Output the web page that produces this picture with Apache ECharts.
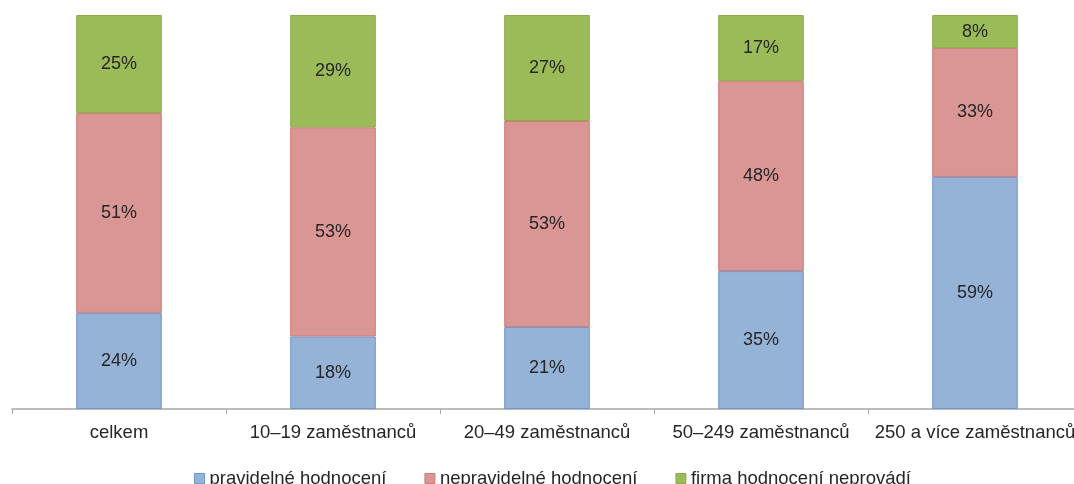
<!DOCTYPE html>
<html><head><meta charset="utf-8">
<script src="https://cdn.jsdelivr.net/npm/echarts@6/dist/echarts.min.js"></script>
<style>html,body{margin:0;padding:0;background:#fff;overflow:hidden}#c{width:1090px;height:484px}</style>
</head><body><div id="c"></div>
<script>
const categories = ['celkem', '10–19 zaměstnanců', '20–49 zaměstnanců', '50–249 zaměstnanců', '250 a více zaměstnanců'];
const seriesNames = ['pravidelné hodnocení', 'nepravidelné hodnocení', 'firma hodnocení neprovádí'];
// bar heights
const pravidelne = [24.4, 18.4, 20.8, 35.0, 58.9];
const nepravidelne = [50.7, 53.1, 52.3, 48.2, 32.7];
const neprovadi = [24.9, 28.5, 26.9, 16.8, 8.4];
// printed labels
const pravidelneLbl = [24, 18, 21, 35, 59];
const nepravidelneLbl = [51, 53, 53, 48, 33];
const neprovadiLbl = [25, 29, 27, 17, 8];

const fills = ['#95B3D7', '#D99694', '#9BBB59'];
const borders = ['#7197CA', '#CF7B79', '#8AAC4C'];
const font = 'Liberation Sans, Arial, sans-serif';

function mk(name, data, lbl, i) {
  return {
    name: name, type: 'bar', stack: 'a', data: data, barWidth: '40%',
    itemStyle: { color: fills[i], borderColor: borders[i], borderWidth: 1 },
    label: { show: true, position: 'inside', formatter: p => lbl[p.dataIndex] + '%', color: '#262626', fontSize: 18, fontFamily: font },
    emphasis: { disabled: true }
  };
}

const chart = echarts.init(document.getElementById('c'));
chart.setOption({
  animation: false,
  grid: { left: 12, top: 15, right: 8, bottom: 75, containLabel: false },
  legend: {
    left: 189, top: 464, itemWidth: 10, itemHeight: 10, itemGap: 38, icon: 'rect',
    textStyle: { fontSize: 18.5, color: '#262626', fontFamily: font },
    data: seriesNames.map((n, i) => ({ name: n, itemStyle: { color: fills[i], borderColor: borders[i], borderWidth: 1 } }))
  },
  xAxis: {
    type: 'category', data: categories,
    axisLine: { lineStyle: { color: '#A6A6A6', width: 1.5 } },
    axisTick: { show: true, length: 5, lineStyle: { color: '#A6A6A6' } },
    axisLabel: { fontSize: 18.5, color: '#262626', fontFamily: font, margin: 14, interval: 0 }
  },
  yAxis: { type: 'value', min: 0, max: 100, show: false, splitLine: { show: false } },
  series: [mk(seriesNames[0], pravidelne, pravidelneLbl, 0), mk(seriesNames[1], nepravidelne, nepravidelneLbl, 1), mk(seriesNames[2], neprovadi, neprovadiLbl, 2)]
});
</script></body></html>
